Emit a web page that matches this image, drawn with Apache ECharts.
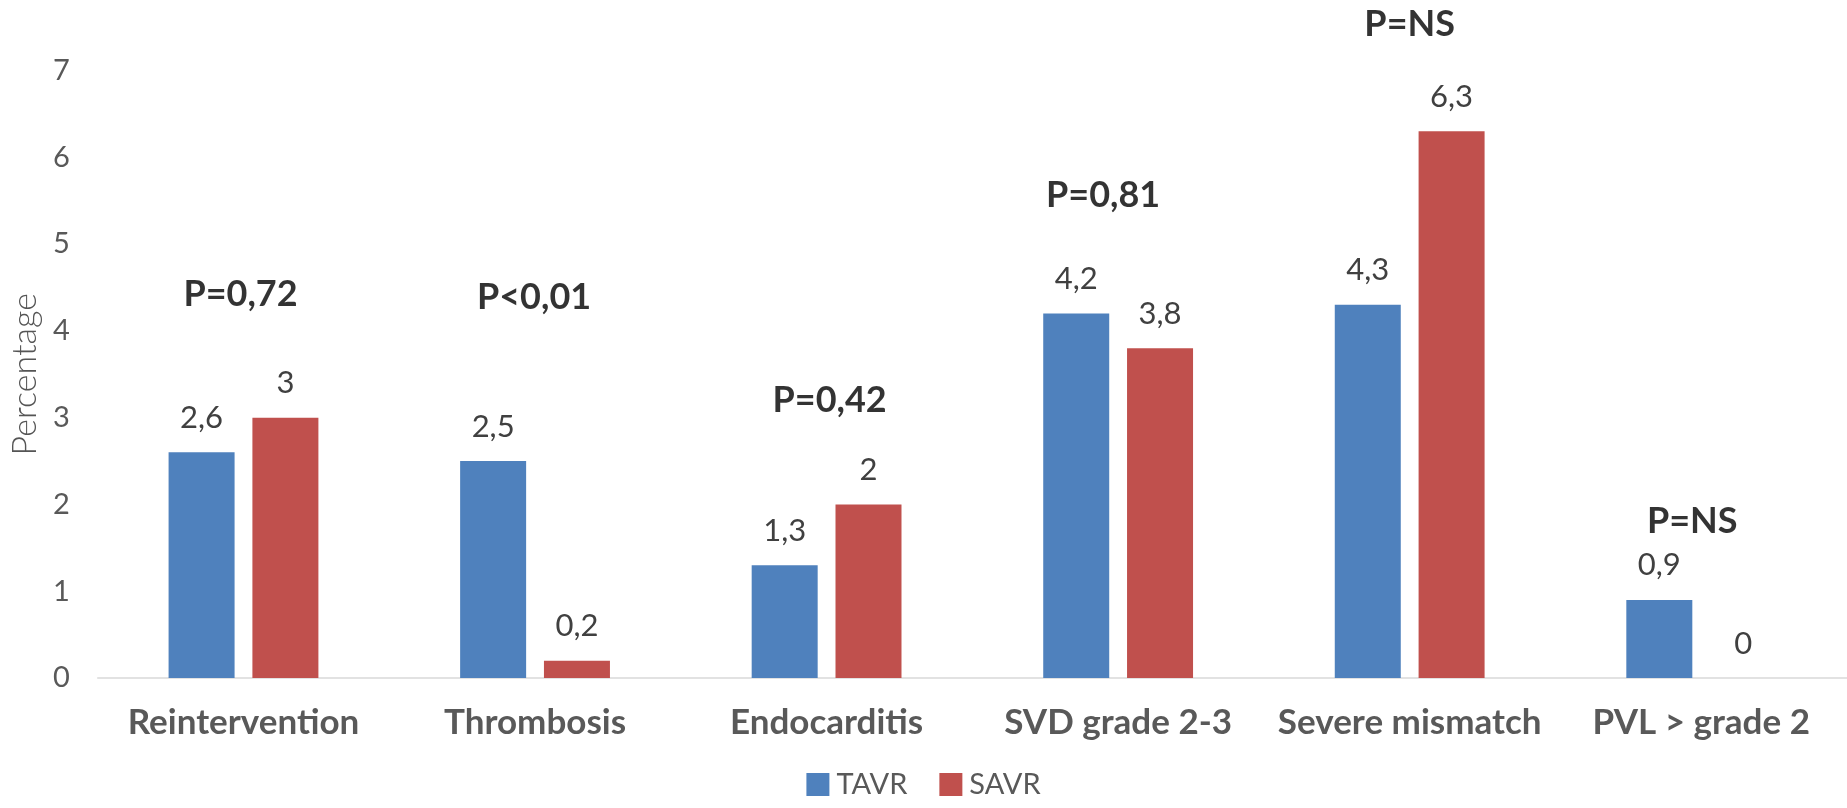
<!DOCTYPE html>
<html>
<head>
<meta charset="utf-8">
<script src="https://cdn.jsdelivr.net/npm/echarts@6/dist/echarts.min.js"></script>
<style>
  html, body { margin: 0; padding: 0; background: #ffffff; }
  #chart { width: 1847px; height: 808px; }
</style>
</head>
<body>
<div id="chart"></div>
<script>
// ---- data ----
const categories = ['Reintervention', 'Thrombosis', 'Endocarditis', 'SVD grade 2-3', 'Severe mismatch', 'PVL > grade 2'];
const tavr = [2.6, 2.5, 1.3, 4.2, 4.3, 0.9];
const savr = [3, 0.2, 2, 3.8, 6.3, 0];
const pTexts = ['P=0,72', 'P<0,01', 'P=0,42', 'P=0,81', 'P=NS', 'P=NS'];
const pHeights = [4.42, 4.39, 3.2, 5.56, 7.53, 1.8];
const yTicks = [0, 1, 2, 3, 4, 5, 6, 7];
const seriesNames = ['TAVR', 'SAVR'];

// ---- styling ----
const pShift = [-3, -1, 3, -15, 0, -9];
const fmt = v => String(v).replace('.', ',');
const grey = '#595959';

const chart = echarts.init(document.getElementById('chart'), null, { renderer: 'canvas' });

const pData = categories.map((c, i) => ({
  value: [i, pHeights[i]],
  label: { formatter: pTexts[i], offset: [pShift[i], 0] }
}));

chart.setOption({
  backgroundColor: '#ffffff',
  animation: false,
  textStyle: { fontFamily: 'Lato, "Open Sans", sans-serif' },
  grid: { left: 90.1, right: -5.9, top: 70.5, bottom: 130, containLabel: false },
  legend: {
    data: seriesNames,
    bottom: 4,
    left: 'center',
    itemWidth: 23,
    itemHeight: 23,
    itemGap: 32,
    icon: 'rect',
    textStyle: { fontSize: 29, color: grey, fontFamily: 'Lato', padding: [0, 0, 0, 2] }
  },
  xAxis: {
    type: 'category',
    data: categories,
    boundaryGap: true,
    axisLine: { show: true, lineStyle: { color: '#D9D9D9', width: 1.5 } },
    axisTick: { show: false },
    axisLabel: { fontSize: 35, fontWeight: 'bold', color: grey, fontFamily: 'Lato', margin: 27, interval: 0 },
    splitLine: { show: false }
  },
  yAxis: {
    type: 'value',
    min: yTicks[0],
    max: yTicks[yTicks.length - 1],
    interval: 1,
    name: 'Percentage',
    nameLocation: 'middle',
    nameGap: 55,
    nameTextStyle: { fontSize: 34, color: '#555555', fontFamily: 'Lato', fontWeight: 300 },
    axisLine: { show: false },
    axisTick: { show: false },
    splitLine: { show: false },
    axisLabel: { fontSize: 29, color: grey, fontFamily: 'Lato', margin: 28, formatter: v => fmt(v) }
  },
  series: [
    {
      name: seriesNames[0],
      type: 'bar',
      data: tavr,
      barWidth: 66,
      barGap: '27%',
      itemStyle: { color: '#4F81BD' },
      label: { show: true, position: 'top', distance: 19, fontSize: 31, color: '#404040', fontFamily: 'Lato', formatter: p => fmt(p.value) }
    },
    {
      name: seriesNames[1],
      type: 'bar',
      data: savr,
      barWidth: 66,
      barGap: '27%',
      itemStyle: { color: '#C0504D' },
      label: { show: true, position: 'top', distance: 19, fontSize: 31, color: '#404040', fontFamily: 'Lato', formatter: p => fmt(p.value) }
    },
    {
      name: 'p',
      type: 'scatter',
      data: pData,
      clip: false,
      symbolSize: 1,
      itemStyle: { color: 'rgba(255,255,255,0)' },
      silent: true,
      z: 5,
      label: { show: true, position: 'inside', fontSize: 36, fontWeight: 'bold', color: '#000000', fontFamily: 'Lato' }
    }
  ]
});
</script>
</body>
</html>
